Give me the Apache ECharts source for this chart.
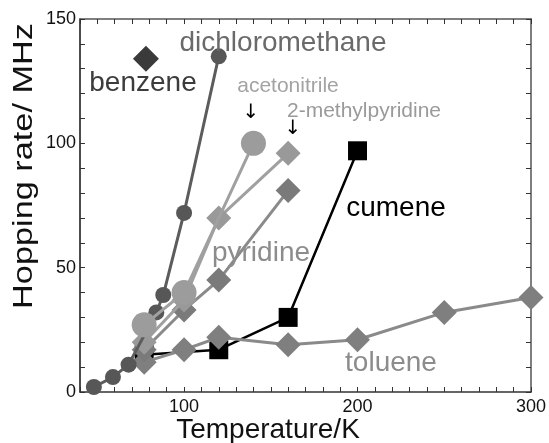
<!DOCTYPE html>
<html>
<head>
<meta charset="utf-8">
<script src="https://cdn.jsdelivr.net/npm/echarts@6/dist/echarts.min.js"></script>
<style>
  html, body { margin: 0; padding: 0; background: #fff; }
  #chart { width: 549px; height: 443px; }
</style>
</head>
<body>
<div id="chart"></div>
<script>
// Hopping rate (MHz) versus temperature (K) for several solvents
const dichloromethaneT    = [48, 59, 68, 84, 88, 100, 120];
const dichloromethaneRate = [2, 6, 11, 32, 39, 72, 135];

const acetonitrileT    = [77, 100, 140];
const acetonitrileRate = [27, 40, 100];

const methylpyridineT    = [77, 100, 120, 160];
const methylpyridineRate = [20, 37, 70, 96];

const pyridineT    = [77, 100, 120, 160];
const pyridineRate = [17, 33, 45, 81];

const tolueneT    = [77, 100, 120, 160, 200, 250, 300];
const tolueneRate = [12, 17, 22, 19, 21, 32, 38];

const cumeneT    = [77, 120, 160, 200];
const cumeneRate = [15, 17, 30, 97];

const benzeneT    = [78];
const benzeneRate = [134];

const xTickLabels = [100, 200, 300];
const yTickLabels = [0, 50, 100, 150];

const FONT = "'Liberation Sans', Arial, sans-serif";

function pairs(xs, ys) { return xs.map((x, i) => [x, ys[i]]); }

function lineSeries(name, xs, ys, opts) {
  return {
    name: name,
    type: 'line',
    data: pairs(xs, ys),
    symbol: opts.symbol,
    symbolSize: opts.size,
    showSymbol: true,
    lineStyle: { color: opts.line || opts.color, width: opts.width || 3 },
    itemStyle: { color: opts.color },
    z: opts.z,
    animation: false
  };
}

function xAxisDef(pos, labels, lineColor) {
  return {
    type: 'value', position: pos, min: 40, max: 300, interval: 10,
    axisLine: { show: true, onZero: false, lineStyle: { color: lineColor, width: 1.5 } },
    axisTick: { show: true, inside: true, length: 5, lineStyle: { color: '#333', width: 1 } },
    axisLabel: {
      show: labels, margin: 6, color: '#111', fontSize: 18, fontFamily: FONT,
      formatter: v => (xTickLabels.indexOf(v) >= 0 ? String(v) : '')
    },
    splitLine: { show: false }
  };
}

function yAxisDef(pos, labels, lineColor) {
  return {
    type: 'value', position: pos, min: 0, max: 150, interval: 10,
    axisLine: { show: true, onZero: false, lineStyle: { color: lineColor, width: 1.5 } },
    axisTick: { show: true, inside: true, length: 5, lineStyle: { color: '#333', width: 1 } },
    axisLabel: {
      show: labels, margin: 4, color: '#111', fontSize: 18, fontFamily: FONT,
      formatter: v => (yTickLabels.indexOf(v) >= 0 ? String(v) : '')
    },
    splitLine: { show: false }
  };
}

function label(text, x, y, size, color) {
  return {
    type: 'text', x: x, y: y, z: 50,
    style: { text: text, font: size + 'px ' + FONT, fill: color, align: 'center', verticalAlign: 'middle' }
  };
}

const chart = echarts.init(document.getElementById('chart'), null, { renderer: 'canvas' });

chart.setOption({
  animation: false,
  backgroundColor: '#fff',
  grid: { left: 80, right: 16, top: 19, bottom: 51, containLabel: false },
  xAxis: [xAxisDef('bottom', true, '#333'), xAxisDef('top', false, '#555')],
  yAxis: [yAxisDef('left', true, '#111'), yAxisDef('right', false, '#555')],
  series: [
    lineSeries('cumene', cumeneT, cumeneRate, { symbol: 'rect', size: 19, color: '#000', width: 2.5, z: 2 }),
    lineSeries('toluene', tolueneT, tolueneRate, { symbol: 'diamond', size: 25, color: '#7f7f7f', line: '#8a8a8a', z: 3 }),
    lineSeries('pyridine', pyridineT, pyridineRate, { symbol: 'diamond', size: 25, color: '#7a7a7a', line: '#8a8a8a', z: 4 }),
    lineSeries('2-methylpyridine', methylpyridineT, methylpyridineRate, { symbol: 'diamond', size: 25, color: '#999', line: '#a0a0a0', z: 5 }),
    lineSeries('dichloromethane', dichloromethaneT, dichloromethaneRate, { symbol: 'circle', size: 16, color: '#575757', line: '#5c5c5c', z: 6 }),
    lineSeries('acetonitrile', acetonitrileT, acetonitrileRate, { symbol: 'circle', size: 25, color: '#9c9c9c', line: '#a0a0a0', z: 7 }),
    lineSeries('benzene', benzeneT, benzeneRate, { symbol: 'diamond', size: 26, color: '#3a3a3a', z: 8 })
  ],
  graphic: [
    label('dichloromethane', 283, 43, 28, '#6a6a6a'),
    label('benzene', 143, 83, 28, '#3c3c3c'),
    label('acetonitrile', 288, 86, 21, '#a3a3a3'),
    label('2-methylpyridine', 364, 111, 21, '#9a9a9a'),
    label('pyridine', 261, 253, 28, '#8c8c8c'),
    label('cumene', 396, 208, 28, '#000'),
    label('toluene', 391, 363, 28, '#8c8c8c'),
    {
      type: 'text', x: 251, y: 113, z: 50,
      style: { text: '\u2193', font: '20px DejaVu Sans', fill: '#000', align: 'center', verticalAlign: 'middle' }
    },
    {
      type: 'text', x: 293, y: 129, z: 50,
      style: { text: '\u2193', font: '20px DejaVu Sans', fill: '#000', align: 'center', verticalAlign: 'middle' }
    },
    label('Temperature/K', 268, 430, 28, '#111'),
    {
      type: 'text', x: 25, y: 166, rotation: Math.PI / 2, scaleX: 1.27, z: 50,
      style: { text: 'Hopping rate/ MHz', font: '27px ' + FONT, fill: '#111', align: 'center', verticalAlign: 'middle' }
    }
  ]
});
</script>
</body>
</html>
